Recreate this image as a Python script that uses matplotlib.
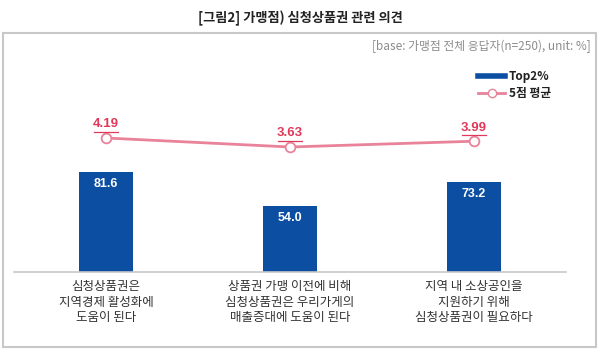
import matplotlib
matplotlib.use("Agg")
import matplotlib.pyplot as plt
from matplotlib.patches import Rectangle
from matplotlib.lines import Line2D

plt.rcParams['font.family'] = ['Noto Sans CJK KR', 'DejaVu Sans']

categories = ["심청상품권은\n지역경제 활성화에\n도움이 된다",
              "상품권 가맹 이전에 비해\n심청상품권은 우리가게의\n매출증대에 도움이 된다",
              "지역 내 소상공인을\n지원하기 위해\n심청상품권이 필요하다"]
top2 = [81.6, 54.0, 73.2]
avg5 = [4.19, 3.63, 3.99]
title = "[그림2] 가맹점) 심청상품권 관련 의견"
subtitle = "[base: 가맹점 전체 응답자(n=250), unit: %]"
legend_labels = ["Top2%", "5점 평균"]

W, H = 600, 351
fig = plt.figure(figsize=(6, 3.51), dpi=100)

# outer frame
fig.patches.append(Rectangle((3 / W, 4 / H), 593 / W, (H - 33 - 4) / H,
                             transform=fig.transFigure, fill=False,
                             edgecolor="#c8c8c8", linewidth=1.5))

fig.text(0.5, 1 - 18 / H, title, ha="center", va="center",
         fontsize=9.5, fontweight="bold", color="#222222")
fig.text(591 / W, 1 - 46 / H, subtitle, ha="right", va="center",
         fontsize=8.5, color="#8c8c8c")

ax_left, ax_right = 14 / W, 566 / W
base_y, top_y = 272, 60
ax = fig.add_axes([ax_left, 1 - base_y / H, ax_right - ax_left, (base_y - top_y) / H])
x = list(range(len(categories)))
ax.set_xlim(-0.5, len(categories) - 0.5)
px_per_unit = 100 / 81.6
ax.set_ylim(0, (base_y - top_y) / px_per_unit)
ax.bar(x, top2, width=0.29, color="#0b4ea2", zorder=2)
num_font = ["Arial", "Liberation Sans", "DejaVu Sans"]
for xi, v in zip(x, top2):
    ax.annotate(f"{v:.1f}", (xi, v), xytext=(0, -8.5), textcoords="offset points",
                ha="center", va="center", color="white", fontsize=9,
                fontweight="bold", family=num_font)
for s in ["top", "right", "left"]:
    ax.spines[s].set_visible(False)
ax.spines["bottom"].set_color("#c8c8c8")
ax.spines["bottom"].set_linewidth(1.2)
ax.set_yticks([])
ax.set_xticks(x)
ax.set_xticklabels(categories, fontsize=9, color="#333333", linespacing=1.25)
ax.tick_params(axis="x", length=0, pad=6)

ax2 = ax.twinx()
ppu2 = (147 - 138) / (4.19 - 3.63)
lo = 4.19 - (base_y - 138) / ppu2
hi = 4.19 + (138 - top_y) / ppu2
ax2.set_ylim(lo, hi)
ax2.plot(x, avg5, color="#e8839a", linewidth=2, marker="o", markersize=7,
         markerfacecolor="white", markeredgecolor="#e8839a", markeredgewidth=1.3, zorder=3)
for xi, v in zip(x, avg5):
    ax2.annotate(f"{v:.2f}", (xi, v), xytext=(0, 7.6), textcoords="offset points",
                 ha="center", va="baseline", color="#e0385a", fontsize=9.5,
                 fontweight="bold", family=num_font)
ax2.set_yticks([])
for s in ["top", "right", "left", "bottom"]:
    ax2.spines[s].set_visible(False)

# underlines beneath the average labels
fig.canvas.draw()
for xi, v in zip(x, avg5):
    x_pix, y_pix = ax2.transData.transform((xi, v))
    y_line = y_pix + 6.0
    fig.add_artist(Line2D([(x_pix - 12) / W, (x_pix + 12) / W], [y_line / H, y_line / H],
                          transform=fig.transFigure, color="#e0385a", linewidth=0.9))

handles = [Line2D([], [], color="#0b4ea2", linewidth=4),
           Line2D([], [], color="#e8839a", linewidth=2, marker="o", markersize=6,
                  markerfacecolor="white", markeredgecolor="#e8839a")]
leg = fig.legend(handles, legend_labels, loc="upper left",
                 bbox_to_anchor=(478 / W, 1 - 70 / H), frameon=False,
                 fontsize=8.5, handlelength=2.3, handletextpad=0.3,
                 labelspacing=0.35, borderaxespad=0, borderpad=0)
for t in leg.get_texts():
    t.set_fontweight("bold")
    t.set_color("#222222")

fig.savefig("out.png", dpi=100)
